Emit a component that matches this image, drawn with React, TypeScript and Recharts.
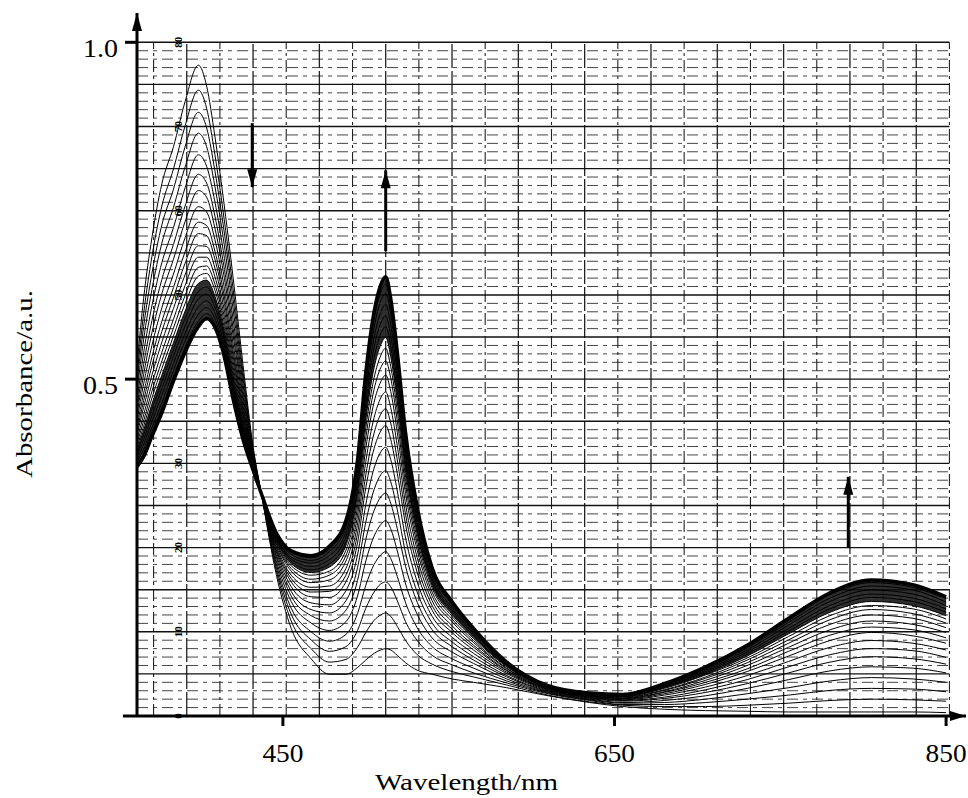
import React from 'react';
import {
  ComposedChart, Line, Area, XAxis, YAxis, ReferenceLine, ReferenceDot,
} from 'recharts';

// wavelength grid (nm) shared by every scan
const wavelengths = [362, 366, 371, 377, 384, 391, 399, 404, 409, 414, 420, 426, 432, 437, 446, 455, 467, 478, 488, 495,
  500, 505, 509, 512, 515, 519, 524, 531, 540, 552, 565, 585, 610, 635, 655, 680, 705, 730, 755, 780, 805, 830, 850];

// absorbance of each successive scan (first -> last)
const scan01 = [0.520, 0.620, 0.710, 0.790, 0.845, 0.912, 0.966, 0.935, 0.860, 0.770, 0.650, 0.520, 0.400, 0.330, 0.210, 0.130, 0.085, 0.062, 0.062, 0.072, 0.083, 0.093, 0.098, 0.100, 0.098, 0.090, 0.079, 0.068, 0.062, 0.055, 0.050, 0.042, 0.030, 0.020, 0.014, 0.010, 0.008, 0.007, 0.006, 0.006, 0.006, 0.006, 0.005];
const scan02 = [0.506, 0.597, 0.682, 0.757, 0.812, 0.876, 0.929, 0.902, 0.833, 0.748, 0.633, 0.509, 0.397, 0.330, 0.216, 0.141, 0.100, 0.080, 0.084, 0.102, 0.124, 0.142, 0.150, 0.153, 0.148, 0.133, 0.112, 0.091, 0.077, 0.066, 0.058, 0.046, 0.031, 0.021, 0.016, 0.014, 0.014, 0.016, 0.019, 0.023, 0.025, 0.024, 0.022];
const scan03 = [0.493, 0.578, 0.657, 0.729, 0.782, 0.845, 0.896, 0.873, 0.809, 0.729, 0.618, 0.500, 0.394, 0.330, 0.221, 0.151, 0.113, 0.096, 0.103, 0.127, 0.160, 0.184, 0.196, 0.199, 0.192, 0.171, 0.140, 0.112, 0.090, 0.076, 0.064, 0.049, 0.033, 0.023, 0.017, 0.017, 0.020, 0.025, 0.031, 0.038, 0.041, 0.040, 0.036];
const scan04 = [0.481, 0.559, 0.633, 0.702, 0.755, 0.815, 0.865, 0.845, 0.786, 0.710, 0.603, 0.491, 0.391, 0.330, 0.226, 0.160, 0.125, 0.111, 0.121, 0.152, 0.194, 0.225, 0.239, 0.244, 0.234, 0.207, 0.168, 0.131, 0.103, 0.085, 0.071, 0.052, 0.034, 0.024, 0.019, 0.020, 0.025, 0.033, 0.042, 0.052, 0.057, 0.055, 0.050];
const scan05 = [0.468, 0.539, 0.609, 0.673, 0.725, 0.784, 0.833, 0.816, 0.763, 0.691, 0.588, 0.482, 0.388, 0.330, 0.231, 0.170, 0.138, 0.127, 0.140, 0.178, 0.230, 0.267, 0.284, 0.290, 0.278, 0.245, 0.196, 0.151, 0.116, 0.095, 0.078, 0.055, 0.035, 0.025, 0.020, 0.023, 0.030, 0.041, 0.054, 0.067, 0.073, 0.071, 0.064];
const scan06 = [0.457, 0.522, 0.587, 0.648, 0.700, 0.757, 0.804, 0.791, 0.742, 0.674, 0.575, 0.474, 0.385, 0.330, 0.236, 0.178, 0.149, 0.141, 0.157, 0.201, 0.262, 0.305, 0.325, 0.331, 0.316, 0.278, 0.222, 0.169, 0.128, 0.103, 0.083, 0.058, 0.036, 0.026, 0.022, 0.026, 0.035, 0.048, 0.064, 0.080, 0.088, 0.085, 0.077];
const scan07 = [0.448, 0.507, 0.569, 0.627, 0.678, 0.734, 0.780, 0.770, 0.724, 0.660, 0.564, 0.467, 0.383, 0.330, 0.240, 0.185, 0.158, 0.153, 0.171, 0.220, 0.288, 0.336, 0.358, 0.364, 0.348, 0.306, 0.242, 0.184, 0.138, 0.110, 0.088, 0.060, 0.037, 0.027, 0.023, 0.028, 0.039, 0.054, 0.073, 0.091, 0.100, 0.097, 0.087];
const scan08 = [0.439, 0.493, 0.550, 0.606, 0.656, 0.710, 0.756, 0.748, 0.707, 0.645, 0.552, 0.460, 0.381, 0.330, 0.244, 0.192, 0.168, 0.165, 0.186, 0.239, 0.314, 0.368, 0.392, 0.399, 0.381, 0.334, 0.264, 0.199, 0.148, 0.117, 0.093, 0.063, 0.038, 0.028, 0.024, 0.031, 0.043, 0.060, 0.081, 0.102, 0.112, 0.108, 0.098];
const scan09 = [0.430, 0.479, 0.533, 0.586, 0.636, 0.689, 0.733, 0.728, 0.690, 0.632, 0.542, 0.454, 0.379, 0.330, 0.247, 0.199, 0.177, 0.176, 0.199, 0.257, 0.339, 0.397, 0.423, 0.431, 0.411, 0.360, 0.284, 0.213, 0.157, 0.124, 0.098, 0.065, 0.039, 0.028, 0.025, 0.033, 0.047, 0.066, 0.089, 0.112, 0.124, 0.119, 0.108];
const scan10 = [0.423, 0.468, 0.520, 0.571, 0.621, 0.672, 0.716, 0.713, 0.678, 0.622, 0.534, 0.449, 0.377, 0.330, 0.250, 0.204, 0.184, 0.185, 0.209, 0.271, 0.358, 0.420, 0.448, 0.456, 0.435, 0.380, 0.299, 0.224, 0.164, 0.129, 0.102, 0.067, 0.040, 0.029, 0.026, 0.035, 0.050, 0.070, 0.096, 0.120, 0.132, 0.128, 0.116];
const scan11 = [0.417, 0.458, 0.506, 0.555, 0.605, 0.655, 0.698, 0.697, 0.665, 0.611, 0.526, 0.444, 0.376, 0.330, 0.253, 0.209, 0.191, 0.193, 0.219, 0.285, 0.378, 0.443, 0.472, 0.481, 0.458, 0.401, 0.314, 0.235, 0.171, 0.134, 0.105, 0.068, 0.040, 0.030, 0.026, 0.036, 0.053, 0.075, 0.102, 0.128, 0.141, 0.136, 0.124];
const scan12 = [0.410, 0.447, 0.493, 0.540, 0.589, 0.639, 0.681, 0.681, 0.652, 0.601, 0.518, 0.439, 0.374, 0.330, 0.256, 0.215, 0.198, 0.202, 0.230, 0.298, 0.397, 0.466, 0.496, 0.506, 0.482, 0.421, 0.330, 0.246, 0.178, 0.140, 0.109, 0.070, 0.041, 0.030, 0.027, 0.038, 0.056, 0.079, 0.108, 0.136, 0.150, 0.145, 0.131];
const scan13 = [0.404, 0.438, 0.482, 0.527, 0.576, 0.624, 0.666, 0.668, 0.641, 0.592, 0.511, 0.435, 0.373, 0.330, 0.258, 0.219, 0.203, 0.209, 0.238, 0.310, 0.413, 0.485, 0.517, 0.527, 0.502, 0.438, 0.343, 0.255, 0.184, 0.144, 0.112, 0.071, 0.042, 0.031, 0.028, 0.039, 0.058, 0.083, 0.113, 0.143, 0.158, 0.152, 0.138];
const scan14 = [0.399, 0.430, 0.472, 0.516, 0.564, 0.612, 0.653, 0.657, 0.632, 0.584, 0.505, 0.431, 0.372, 0.330, 0.260, 0.223, 0.209, 0.215, 0.246, 0.321, 0.428, 0.502, 0.535, 0.546, 0.519, 0.453, 0.354, 0.263, 0.190, 0.148, 0.115, 0.073, 0.042, 0.031, 0.029, 0.041, 0.061, 0.086, 0.118, 0.149, 0.164, 0.159, 0.144];
const scan15 = [0.395, 0.424, 0.463, 0.506, 0.554, 0.601, 0.642, 0.647, 0.623, 0.578, 0.500, 0.428, 0.371, 0.330, 0.262, 0.226, 0.213, 0.221, 0.253, 0.330, 0.440, 0.517, 0.551, 0.562, 0.534, 0.466, 0.364, 0.270, 0.194, 0.151, 0.117, 0.074, 0.043, 0.032, 0.029, 0.042, 0.062, 0.089, 0.122, 0.154, 0.170, 0.164, 0.149];
const scan16 = [0.390, 0.417, 0.455, 0.496, 0.544, 0.590, 0.630, 0.637, 0.615, 0.571, 0.494, 0.425, 0.370, 0.330, 0.264, 0.230, 0.217, 0.226, 0.259, 0.338, 0.452, 0.532, 0.567, 0.578, 0.550, 0.479, 0.374, 0.277, 0.199, 0.155, 0.119, 0.075, 0.043, 0.032, 0.030, 0.043, 0.064, 0.092, 0.126, 0.159, 0.176, 0.170, 0.154];
const scan17 = [0.386, 0.410, 0.446, 0.486, 0.534, 0.579, 0.619, 0.626, 0.607, 0.564, 0.489, 0.422, 0.369, 0.330, 0.266, 0.233, 0.222, 0.232, 0.266, 0.348, 0.465, 0.547, 0.583, 0.594, 0.565, 0.493, 0.384, 0.285, 0.203, 0.158, 0.122, 0.076, 0.043, 0.033, 0.030, 0.044, 0.066, 0.095, 0.130, 0.164, 0.181, 0.175, 0.159];
const scan18 = [0.381, 0.403, 0.437, 0.476, 0.523, 0.568, 0.607, 0.616, 0.598, 0.557, 0.484, 0.418, 0.368, 0.330, 0.267, 0.236, 0.227, 0.238, 0.273, 0.357, 0.478, 0.562, 0.599, 0.611, 0.581, 0.506, 0.394, 0.292, 0.208, 0.161, 0.124, 0.077, 0.044, 0.033, 0.031, 0.045, 0.068, 0.098, 0.135, 0.170, 0.187, 0.181, 0.164];
const scan19 = [0.377, 0.396, 0.428, 0.465, 0.513, 0.557, 0.596, 0.606, 0.590, 0.550, 0.478, 0.415, 0.367, 0.330, 0.269, 0.240, 0.231, 0.244, 0.280, 0.366, 0.491, 0.577, 0.616, 0.627, 0.597, 0.520, 0.405, 0.299, 0.213, 0.165, 0.126, 0.078, 0.044, 0.033, 0.031, 0.046, 0.070, 0.101, 0.139, 0.175, 0.193, 0.187, 0.169];
const scan20 = [0.373, 0.390, 0.421, 0.457, 0.504, 0.547, 0.586, 0.597, 0.583, 0.545, 0.474, 0.412, 0.366, 0.330, 0.271, 0.243, 0.235, 0.248, 0.285, 0.374, 0.502, 0.590, 0.629, 0.641, 0.610, 0.531, 0.413, 0.305, 0.217, 0.168, 0.128, 0.079, 0.045, 0.034, 0.032, 0.047, 0.072, 0.103, 0.142, 0.180, 0.198, 0.191, 0.174];
const scan21 = [0.370, 0.385, 0.415, 0.450, 0.497, 0.540, 0.578, 0.590, 0.577, 0.540, 0.470, 0.410, 0.365, 0.330, 0.272, 0.245, 0.238, 0.252, 0.290, 0.380, 0.510, 0.600, 0.640, 0.652, 0.620, 0.540, 0.420, 0.310, 0.220, 0.170, 0.130, 0.080, 0.045, 0.034, 0.032, 0.048, 0.073, 0.105, 0.145, 0.183, 0.202, 0.195, 0.177];

const scans = [scan01, scan02, scan03, scan04, scan05, scan06, scan07, scan08, scan09, scan10, scan11,
  scan12, scan13, scan14, scan15, scan16, scan17, scan18, scan19, scan20, scan21];

const xTicks = [450, 650, 850];
const yTicks = [0.5, 1.0];

// recorder paper scale printed along the left edge
const paperLabels = ['80', '70', '60', '50', '30', '20', '10', '0'];
const paperLabelLevels = [1.0, 0.875, 0.75, 0.625, 0.375, 0.25, 0.125, 0.0];

// direction-of-change arrows: wavelength, tail and tip absorbance
const arrowWl = [431.5, 512, 791];
const arrowFrom = [0.88, 0.69, 0.25];
const arrowTo = [0.785, 0.81, 0.355];

const X_MIN = 362, X_MAX = 862, Y_MAX = 1.0435;
const SERIF = '"Liberation Serif", "Times New Roman", serif';

const data = wavelengths.map((wl, i) => {
  const row: Record<string, any> = { wl };
  scans.forEach((s, k) => { row[`s${k + 1}`] = s[i]; });
  row.band = [scan15[i], scan21[i]];
  return row;
});

// chart-paper rulings
const majorRows = Array.from({ length: 16 }, (_, k) => (k + 1) * 0.0625);
const minorRows = Array.from({ length: 80 }, (_, j) => j).filter((j) => j % 5 !== 0).map((j) => j * 0.0125);
const paperCols = Array.from({ length: 25 }, (_, k) => 372 + 20 * k);

const headUp = (p: any) => (
  <polygon points={`${p.cx},${p.cy} ${p.cx - 5},${p.cy + 18} ${p.cx + 5},${p.cy + 18}`} fill="#000" />
);
const headDown = (p: any) => (
  <polygon points={`${p.cx},${p.cy} ${p.cx - 5},${p.cy - 18} ${p.cx + 5},${p.cy - 18}`} fill="#000" />
);
const headRight = (p: any) => (
  <polygon points={`${p.cx},${p.cy} ${p.cx - 16},${p.cy - 5} ${p.cx - 16},${p.cy + 5}`} fill="#000" />
);

const XTick = (p: any) => (
  <text x={p.x} y={p.y + 34} textAnchor="middle" fontFamily={SERIF} fontSize={25}
    textLength={41} lengthAdjust="spacingAndGlyphs" fill="#000">
    {p.payload.value}
  </text>
);

const YTick = (p: any) => (
  <text x={p.x} y={p.y + 15} textAnchor="end" fontFamily={SERIF} fontSize={25}
    textLength={35} lengthAdjust="spacingAndGlyphs" fill="#000">
    {Number(p.payload.value).toFixed(1)}
  </text>
);

const XTitle = (p: any) => {
  const vb = p.viewBox || {};
  return (
    <text x={vb.x + 238} y={vb.y + 74} fontFamily={SERIF} fontSize={24}
      textLength={183} lengthAdjust="spacingAndGlyphs" fill="#000">
      Wavelength/nm
    </text>
  );
};

const YTitle = (p: any) => {
  const vb = p.viewBox || {};
  const cx = vb.x + 32;
  const cy = vb.y + 371;
  return (
    <text x={cx} y={cy} transform={`rotate(-90 ${cx} ${cy})`} textAnchor="middle" fontFamily={SERIF}
      fontSize={24} textLength={188} lengthAdjust="spacingAndGlyphs" fill="#000">
      Absorbance/a.u.
    </text>
  );
};

export default function App() {
  return (
    <div style={{ position: 'absolute', left: 0, top: 0, width: 968, height: 798, background: '#fff' }}>
      <ComposedChart width={968} height={798} data={data} margin={{ top: 13, right: 2, bottom: 0, left: 0 }}>
        <XAxis dataKey="wl" type="number" domain={[X_MIN, X_MAX]} ticks={xTicks} allowDataOverflow
          height={82} axisLine={{ stroke: '#000', strokeWidth: 3 }} tickLine={{ stroke: '#000', strokeWidth: 3 }}
          tickSize={10} tickMargin={2} tick={<XTick />} label={<XTitle />} />
        <YAxis type="number" domain={[0, Y_MAX]} ticks={yTicks} allowDataOverflow width={137}
          axisLine={{ stroke: '#000', strokeWidth: 3 }} tickLine={{ stroke: '#000', strokeWidth: 3 }}
          tickSize={12} tickMargin={7} tick={<YTick />} label={<YTitle />} />

        {minorRows.map((v) => (
          <ReferenceLine key={`mn${v}`} segment={[{ x: X_MIN, y: v }, { x: 852, y: v }]}
            stroke="#444" strokeWidth={1} strokeDasharray="11 5 4 5" />
        ))}
        {paperCols.map((c, k) => (
          <ReferenceLine key={`vc${c}`} segment={[{ x: c, y: 0 }, { x: c, y: 1.0 }]}
            stroke="#222" strokeWidth={k % 2 ? 1.3 : 1.1} strokeDasharray={k % 2 ? '24 3' : '12 4 3 4'} />
        ))}
        {majorRows.map((v) => (
          <ReferenceLine key={`mj${v}`} segment={[{ x: X_MIN, y: v }, { x: 852, y: v }]}
            stroke="#111" strokeWidth={1.4} />
        ))}
        {paperLabels.map((t, i) => (
          <ReferenceDot key={`pl${t}`} x={387} y={paperLabelLevels[i]} r={0} ifOverflow="visible"
            shape={(p: any) => (
              <text x={p.cx} y={p.cy} transform={`rotate(-90 ${p.cx} ${p.cy})`} textAnchor="middle"
                dominantBaseline="central" fontFamily={SERIF} fontSize={11} fontWeight={700} fill="#000">{t}</text>
            )} />
        ))}

        <Area dataKey="band" type="monotone" stroke="none" fill="#000" fillOpacity={0.82}
          isAnimationActive={false} activeDot={false} />
        {scans.map((_, k) => (
          <Line key={`s${k + 1}`} dataKey={`s${k + 1}`} type="monotone" stroke="#000"
            strokeWidth={k === scans.length - 1 ? 3.5 : 1} dot={false} activeDot={false}
            isAnimationActive={false} />
        ))}

        {arrowWl.map((wl, i) => (
          <ReferenceLine key={`as${i}`} segment={[{ x: wl, y: arrowFrom[i] }, { x: wl, y: arrowTo[i] }]}
            stroke="#000" strokeWidth={3} />
        ))}
        {arrowWl.map((wl, i) => (
          <ReferenceDot key={`ah${i}`} x={wl} y={arrowTo[i]} r={0}
            shape={arrowTo[i] > arrowFrom[i] ? headUp : headDown} />
        ))}

        <ReferenceLine segment={[{ x: 353.5, y: 0 }, { x: X_MIN, y: 0 }]} stroke="#000" strokeWidth={3} ifOverflow="visible" />
        <ReferenceDot x={X_MIN} y={Y_MAX} r={0} ifOverflow="visible" shape={headUp} />
        <ReferenceDot x={X_MAX} y={0} r={0} ifOverflow="visible" shape={headRight} />
      </ComposedChart>
    </div>
  );
}
